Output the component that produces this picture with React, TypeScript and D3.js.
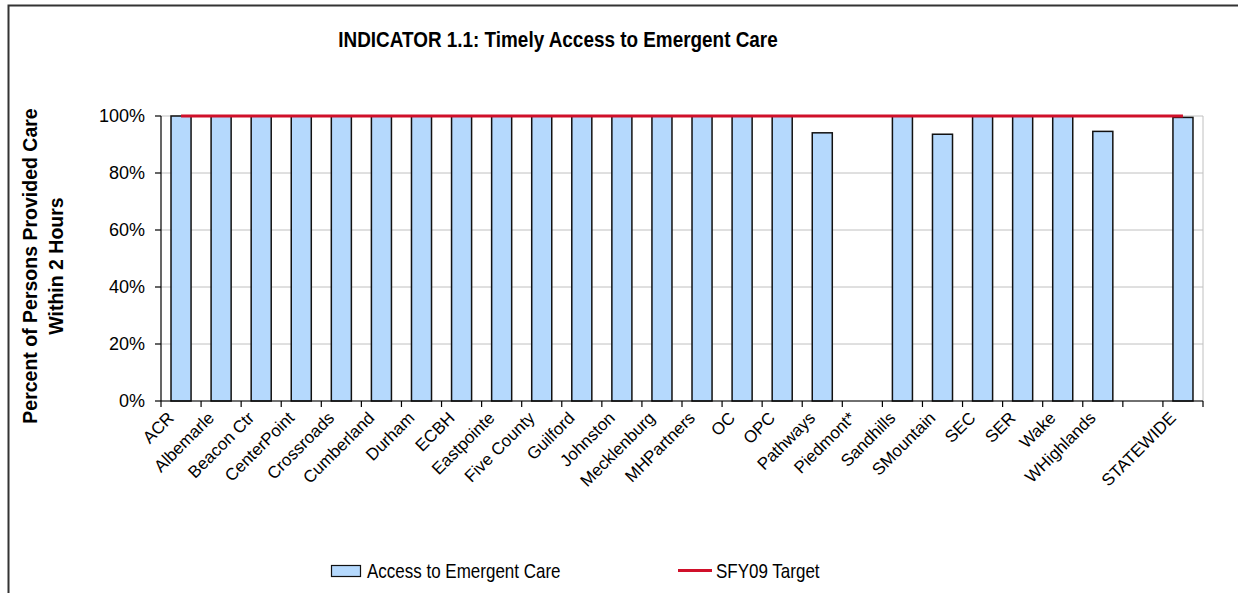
import React from "react";
import * as d3 from "d3";

const categories = [
  "ACR", "Albemarle", "Beacon Ctr", "CenterPoint", "Crossroads", "Cumberland", "Durham",
  "ECBH", "Eastpointe", "Five County", "Guilford", "Johnston", "Mecklenburg", "MHPartners",
  "OC", "OPC", "Pathways", "Piedmont*", "Sandhills", "SMountain", "SEC", "SER", "Wake",
  "WHighlands", "", "STATEWIDE",
];
const accessValues: (number | null)[] = [
  1.0, 1.0, 1.0, 1.0, 1.0, 1.0, 1.0, 1.0, 1.0, 1.0, 1.0, 1.0, 1.0, 1.0, 1.0, 1.0,
  0.941, null, 1.0, 0.936, 1.0, 1.0, 1.0, 0.946, null, 0.995,
];
const targetValues = categories.map(() => 1.0);
const yTicks = [0, 0.2, 0.4, 0.6, 0.8, 1.0];

const W = 1238;
const H = 593;
const FONT = "'Liberation Sans', Arial, Helvetica, sans-serif";

export default function App() {
  const plot = { left: 161, right: 1203, top: 116, bottom: 401 };
  const idx = categories.map((_, i) => i);
  const x = d3.scaleBand<number>().domain(idx).range([plot.left, plot.right]).paddingInner(0.5).paddingOuter(0.25);
  const xOuter = d3.scaleBand<number>().domain(idx).range([plot.left, plot.right]);
  const y = d3.scaleLinear().domain([0, 1]).range([plot.bottom, plot.top]);
  const line = d3
    .line<number>()
    .x((d, i) => (xOuter(i) as number) + xOuter.bandwidth() / 2)
    .y((d) => y(d));

  const boundaries = d3.range(categories.length + 1).map((i) => plot.left + i * xOuter.step());

  return (
    <div style={{ position: "absolute", left: 0, top: 0 }}>
      <svg width={W} height={H} style={{ display: "block" }} fontFamily={FONT}>
        <rect x={0} y={0} width={W} height={H} fill="#fff" />
        {/* chart frame */}
        <path d={`M8.5,${H + 5} V5.5 H${W + 5}`} fill="none" stroke="#333" strokeWidth={2} />

        {/* title */}
        <text transform="translate(558,47) scale(0.86,1)" textAnchor="middle" fontSize={22} fontWeight="bold" fill="#000">
          INDICATOR 1.1: Timely Access to Emergent Care
        </text>

        {/* gridlines */}
        {yTicks.map((t) => (
          <line key={t} x1={plot.left} x2={plot.right} y1={y(t)} y2={y(t)} stroke="#c0c0c0" strokeWidth={1} />
        ))}
        {/* plot border right */}
        <line x1={plot.right} x2={plot.right} y1={plot.top} y2={plot.bottom} stroke="#c0c0c0" strokeWidth={1} />

        {/* bars */}
        {accessValues.map((v, i) =>
          v == null ? null : (
            <rect
              key={i}
              x={x(i) as number}
              y={y(v)}
              width={x.bandwidth()}
              height={plot.bottom - y(v)}
              fill="#b5d9fd"
              stroke="#111"
              strokeWidth={1.5}
            />
          )
        )}

        {/* axes */}
        <line x1={plot.left} x2={plot.left} y1={plot.top} y2={plot.bottom} stroke="#000" strokeWidth={1.2} />
        <line x1={plot.left} x2={plot.right} y1={plot.bottom} y2={plot.bottom} stroke="#000" strokeWidth={1.2} />
        {yTicks.map((t) => (
          <g key={t}>
            <line x1={plot.left - 6} x2={plot.left} y1={y(t)} y2={y(t)} stroke="#000" strokeWidth={1.2} />
            <text x={145} y={y(t)} dy="0.35em" textAnchor="end" fontSize={18} fill="#000">
              {d3.format(".0%")(t)}
            </text>
          </g>
        ))}
        {boundaries.map((bx, i) => (
          <line key={i} x1={bx} x2={bx} y1={plot.bottom} y2={plot.bottom + 6} stroke="#000" strokeWidth={1.2} />
        ))}
        {categories.map((c, i) => {
          const cx = (xOuter(i) as number) + xOuter.bandwidth() / 2;
          return (
            <text
              key={i}
              transform={`translate(${cx - 6},${419}) rotate(-45)`}
              textAnchor="end"
              fontSize={17}
              fill="#000"
            >
              {c}
            </text>
          );
        })}

        {/* target line */}
        <path d={line(targetValues) as string} fill="none" stroke="#d0102a" strokeWidth={3} />

        {/* y axis title */}
        <text transform="translate(37,266) rotate(-90)" textAnchor="middle" fontSize={19.5} fontWeight="bold" fill="#000">
          Percent of Persons Provided Care
        </text>
        <text transform="translate(63,266) rotate(-90)" textAnchor="middle" fontSize={19.5} fontWeight="bold" fill="#000">
          Within 2 Hours
        </text>

        {/* legend */}
        <rect x={331.5} y={565.5} width={29} height={11} fill="#b5d9fd" stroke="#111" strokeWidth={1.2} />
        <text transform="translate(367,578) scale(0.85,1)" fontSize={20} fill="#000">Access to Emergent Care</text>
        <line x1={678} x2={712} y1={570.5} y2={570.5} stroke="#d0102a" strokeWidth={3} />
        <text transform="translate(716,578) scale(0.85,1)" fontSize={20} fill="#000">SFY09 Target</text>
      </svg>
    </div>
  );
}
